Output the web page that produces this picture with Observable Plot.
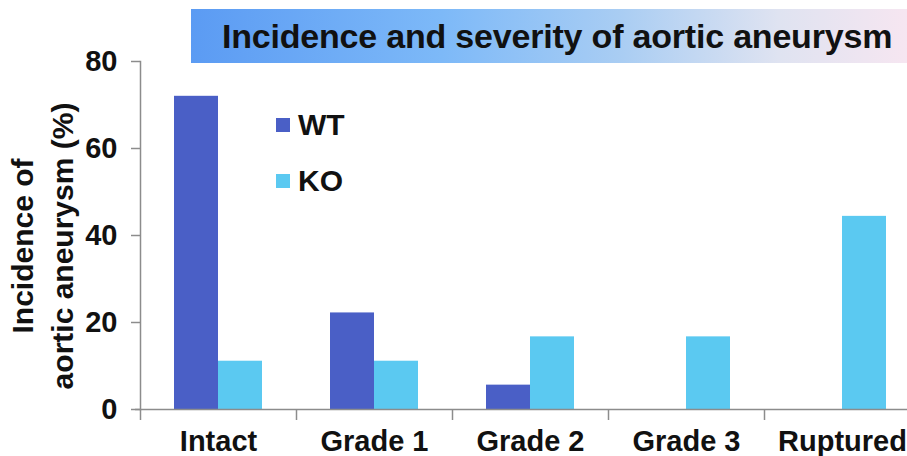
<!DOCTYPE html>
<html>
<head>
<meta charset="utf-8">
<script src="https://cdn.jsdelivr.net/npm/d3@7"></script>
<script src="https://cdn.jsdelivr.net/npm/@observablehq/plot@0.6"></script>
<style>
  html, body { margin: 0; padding: 0; background: #fff; }
  #wrap { position: relative; width: 907px; height: 456px; overflow: hidden; font-family: "Liberation Sans", Arial, sans-serif; }
  #title { position: absolute; left: 191px; top: 9px; width: 716px; height: 54px;
    background: linear-gradient(to right, #5b9bf3 0%, #7db9f8 35%, #a9cdf3 60%, #dfe3f1 82%, #f6e6f1 100%);
    box-sizing: border-box; padding-left: 31px; line-height: 54px;
    font-size: 34px; font-weight: bold; color: #111; white-space: nowrap; letter-spacing: -0.2px; }
  .legend { position: absolute; left: 276px; font-size: 30px; font-weight: bold; color: #111; display: flex; align-items: center; }
  .legend span.sw { display: inline-block; width: 14px; height: 14px; margin-right: 8px; }
  svg [aria-label="y-axis tick"] path, svg [aria-label="x-axis tick"] path { stroke: #8c8c8c; stroke-width: 1.5; }
</style>
</head>
<body>
<div id="wrap"></div>
<script>
const categories = ["Intact", "Grade 1", "Grade 2", "Grade 3", "Ruptured"];
const wtValues = [72.0, 22.2, 5.6, 0, 0];
const koValues = [11.1, 11.1, 16.7, 16.7, 44.4];
const seriesNames = ["WT", "KO"];
const seriesColors = ["#4a5fc6", "#5bc9f1"];
const yTicks = [0, 20, 40, 60, 80];
const titleText = "Incidence and severity of aortic aneurysm";
const yLabelLines = ["Incidence of", "aortic aneurysm (%)"];

const rows = [];
categories.forEach((c, i) => {
  rows.push({category: c, series: "WT", value: wtValues[i]});
  rows.push({category: c, series: "KO", value: koValues[i]});
});

const step = 156;
const chart = Plot.plot({
  width: 907,
  height: 456,
  marginLeft: 140,
  marginRight: 0,
  marginTop: 61,
  marginBottom: 47,
  style: {fontFamily: "'Liberation Sans', Arial, sans-serif", fontWeight: "bold", color: "#111", background: "white", overflow: "visible"},
  x: {domain: categories, range: [140, 140 + 5 * step], paddingInner: 0.718, paddingOuter: 0.359, axis: null},
  y: {domain: [0, 80], axis: null},
  marks: [
    Plot.barY(rows.filter(d => d.series === "WT"), {x: "category", y: "value", fill: seriesColors[0], dx: -22}),
    Plot.barY(rows.filter(d => d.series === "KO"), {x: "category", y: "value", fill: seriesColors[1], dx: 22}),
    Plot.axisY({ticks: yTicks, tickSize: 9, tickPadding: 14, fontSize: 29, label: null}),
    Plot.axisX({tickSize: 0, tickPadding: 21, fontSize: 29, label: null}),
    Plot.axisX({tickSize: 11, tickFormat: () => "", dx: -step / 2, label: null}),
    Plot.ruleY([0], {stroke: "#8c8c8c", strokeWidth: 1.5, insetLeft: -5}),
    Plot.frame({anchor: "left", stroke: "#8c8c8c", strokeWidth: 1.5})
  ]
});

const wrap = document.getElementById("wrap");
wrap.appendChild(chart);

// y-axis label (two lines, rotated)
const ns = "http://www.w3.org/2000/svg";
const g = document.createElementNS(ns, "g");
g.setAttribute("transform", "translate(0,246) rotate(-90)");
g.setAttribute("font-size", "30");
g.setAttribute("font-weight", "bold");
g.setAttribute("fill", "#111");
g.setAttribute("text-anchor", "middle");
yLabelLines.forEach((t, i) => {
  const tx = document.createElementNS(ns, "text");
  tx.setAttribute("x", 0);
  tx.setAttribute("y", 33 + i * 40);
  tx.textContent = t;
  g.appendChild(tx);
});
chart.appendChild(g);

// title
const title = document.createElement("div");
title.id = "title";
title.textContent = titleText;
wrap.appendChild(title);

// legend
const legendTops = [108, 164];
seriesNames.forEach((name, i) => {
  const d = document.createElement("div");
  d.className = "legend";
  d.style.top = legendTops[i] + "px";
  const sw = document.createElement("span");
  sw.className = "sw";
  sw.style.background = seriesColors[i];
  d.appendChild(sw);
  d.appendChild(document.createTextNode(name));
  wrap.appendChild(d);
});
</script>
</body>
</html>
